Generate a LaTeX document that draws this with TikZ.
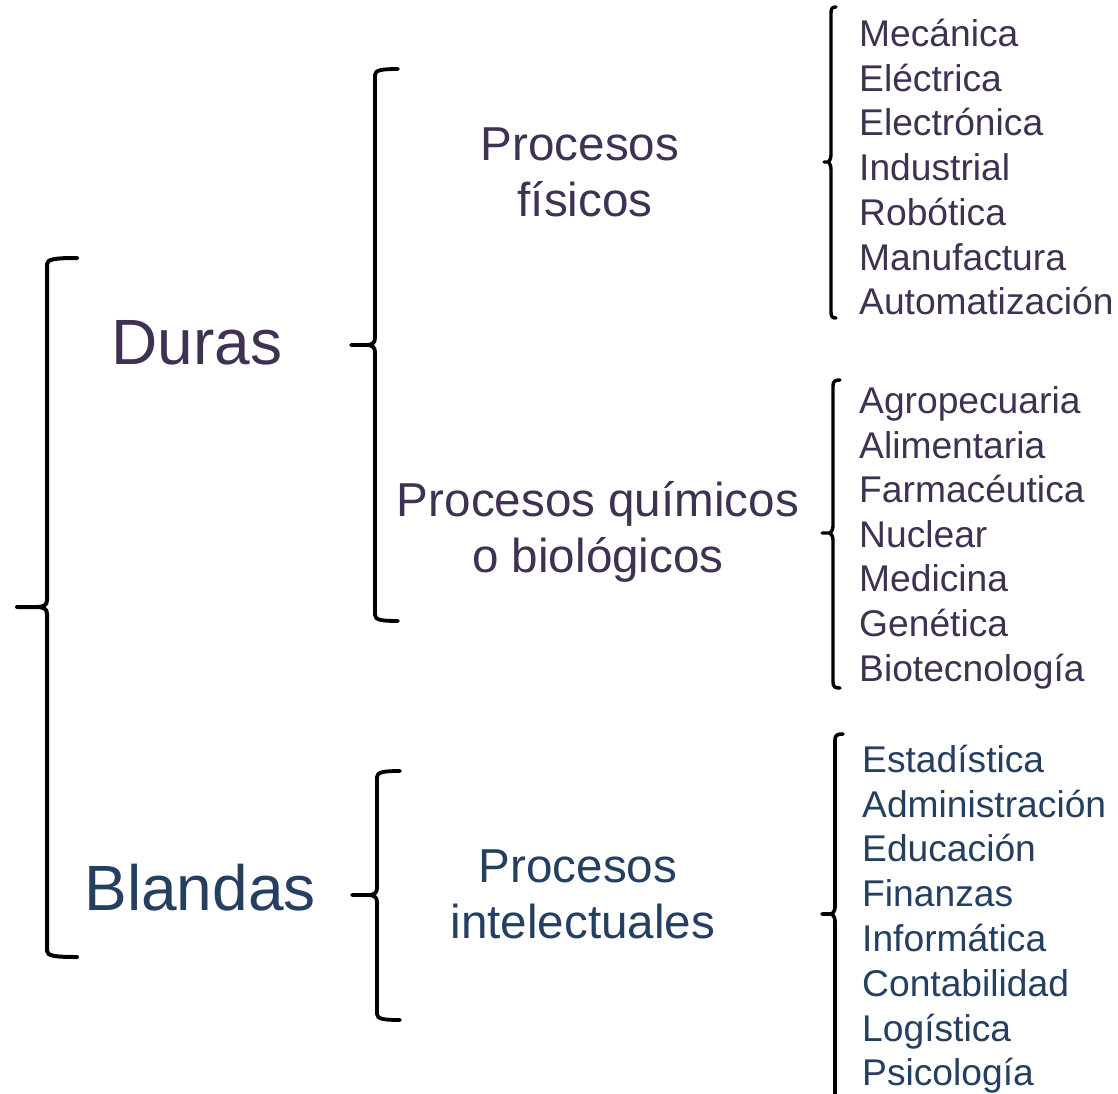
\documentclass[tikz,border=0pt]{standalone}
\usepackage{fontspec}
\setmainfont{Liberation Sans}
\definecolor{durc}{HTML}{3F3151}
\definecolor{blac}{HTML}{243F60}
% #1 x of vertical, #2 top y, #3 tip y, #4 bottom y, #5 hook end x, #6 tip x, #7 line width
\newcommand\mybrace[7]{%
  \draw[line width=#7, line cap=round, line join=round]
    (#5,#2) .. controls ({#1+0.3*(#5-#1)},#2) and (#1,{#2+1}) .. (#1,{#2+6})
    -- (#1,{#3-7}) .. controls (#1,{#3-2}) and ({#1-3},#3) .. ({#1-0.35*(#1-#6)},#3)
    -- (#6,#3) -- ({#1-0.35*(#1-#6)},#3)
    .. controls ({#1-3},#3) and (#1,{#3+2}) .. (#1,{#3+7})
    -- (#1,{#4-6}) .. controls (#1,{#4-1}) and ({#1+0.3*(#5-#1)},#4) .. (#5,#4);}
\tikzset{
  big/.style={font=\fontsize{64}{70}\selectfont, inner sep=0pt, anchor=base},
  mid/.style={font=\fontsize{47.6}{57}\selectfont, inner sep=0pt, anchor=base},
  item/.style={font=\fontsize{37.2}{44}\selectfont, inner sep=0pt, anchor=base west},
}
\begin{document}
\begin{tikzpicture}[x=1pt,y=-1pt]
\clip (0,0) rectangle (1118,1093);
\fill[white] (0,0) rectangle (1118,1093);
% braces
\mybrace{47}{258}{607}{957}{77}{17}{4pt}
\mybrace{375}{69}{345}{621}{398}{351}{3.8pt}
\mybrace{377}{771}{895}{1020}{400}{352}{3.8pt}
\mybrace{831}{7}{162}{318}{836}{824}{3.4pt}
\mybrace{833}{380}{533}{688}{840}{822}{3.4pt}
\mybrace{835}{734}{914}{1110}{843}{822}{3.6pt}
% main labels
\node[big, text=durc] (duras) at (197,364) {Duras};
\node[big, text=blac] (blandas) at (200,910) {Blandas};
% mid labels
\node[mid, text=durc] (pf1) at (580,160) {Procesos};
\node[mid, text=durc] (pf2) at (585,216) {físicos};
\node[mid, text=durc] (pq1) at (598,516) {Procesos químicos};
\node[mid, text=durc] (pq2) at (598,572) {o biológicos};
\node[mid, text=blac] (pi1) at (578,882) {Procesos};
\node[mid, text=blac] (pi2) at (583,938) {intelectuales};
% lists
\begin{scope}[every node/.style={item, text=durc}]
\node (a1) at (859,46) {Mecánica};
\node (a2) at (859,91) {Eléctrica};
\node (a3) at (859,135) {Electrónica};
\node (a4) at (859,180) {Industrial};
\node (a5) at (859,225) {Robótica};
\node (a6) at (859,270) {Manufactura};
\node (a7) at (859,314) {Automatización};
\node (b1) at (859,413) {Agropecuaria};
\node (b2) at (859,458) {Alimentaria};
\node (b3) at (859,502) {Farmacéutica};
\node (b4) at (859,547) {Nuclear};
\node (b5) at (859,591) {Medicina};
\node (b6) at (859,636) {Genética};
\node (b7) at (859,681) {Biotecnología};
\end{scope}
\begin{scope}[every node/.style={item, text=blac}]
\node (c1) at (862,772) {Estadística};
\node (c2) at (862,817) {Administración};
\node (c3) at (862,861) {Educación};
\node (c4) at (862,906) {Finanzas};
\node (c5) at (862,951) {Informática};
\node (c6) at (862,996) {Contabilidad};
\node (c7) at (862,1041) {Logística};
\node (c8) at (862,1085) {Psicología};
\end{scope}
\end{tikzpicture}
\end{document}
